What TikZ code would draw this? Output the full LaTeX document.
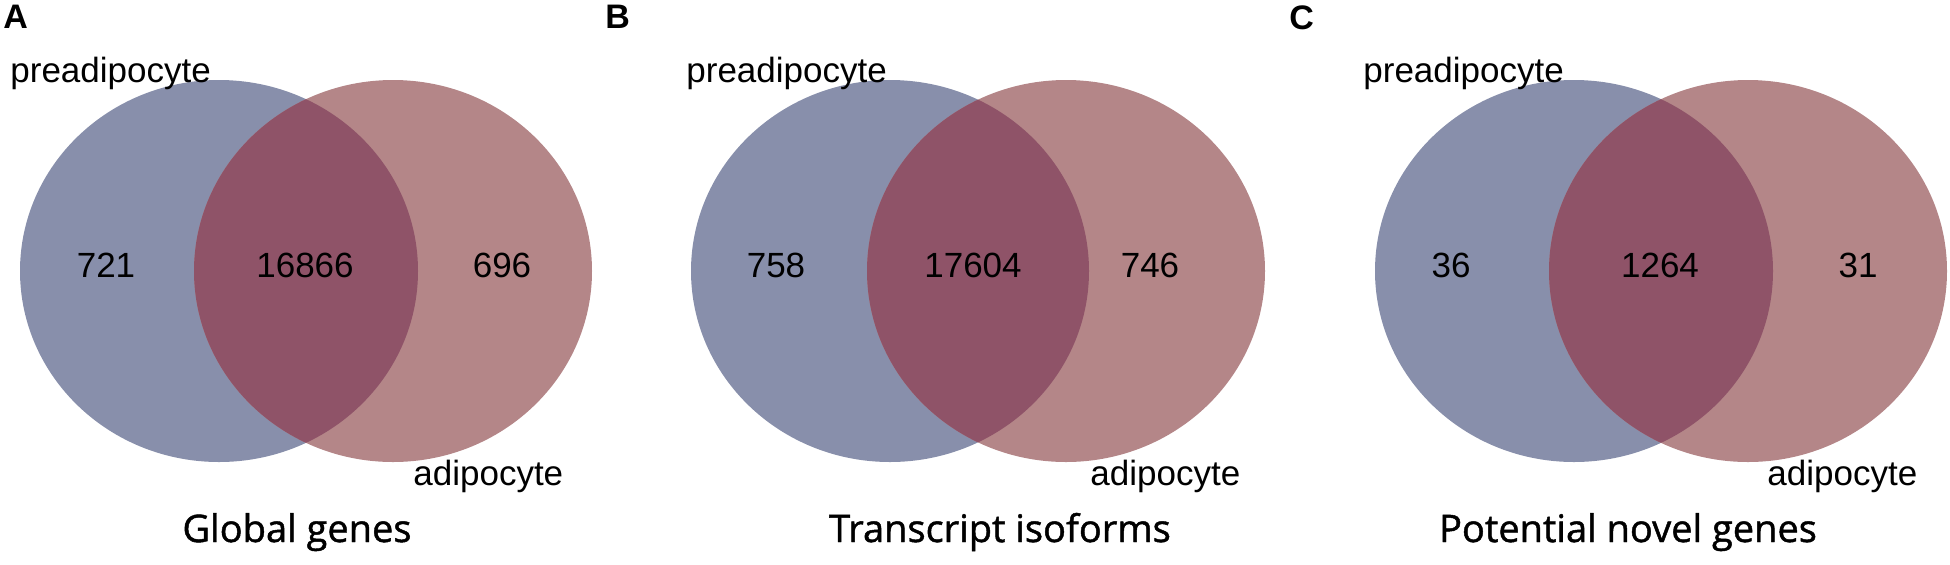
\documentclass[tikz,border=0pt]{standalone}
\usepackage{fontspec}
\setmainfont{Liberation Sans}
\newfontfamily\titlefamily[FakeBold=1.2]{Open Sans}
\usepackage{tikz}

\definecolor{preFill}{RGB}{136,143,171}
\definecolor{adiFill}{RGB}{180,134,136}
\definecolor{bothFill}{RGB}{143,83,104}

\begin{document}
\begin{tikzpicture}[x=0.5pt, y=-0.5pt,
  tag/.style={font=\fontsize{17}{20}\selectfont\bfseries, inner sep=0pt, anchor=north west},
  setname/.style={font=\fontsize{17.5}{21}\selectfont, inner sep=0pt, anchor=base west},
  count/.style={font=\fontsize{17.5}{21}\selectfont, inner sep=0pt},
  caption/.style={font=\titlefamily\fontsize{19}{22}\selectfont, inner sep=0pt, anchor=base},
  pre/.style={fill=preFill},
  adi/.style={fill=adiFill},
  both/.style={fill=bothFill}
]
\useasboundingbox (0,0) rectangle (1950,564);

% Panel A: global genes
\coordinate (preA) at (219,271);
\coordinate (adiA) at (393,271);
\fill[pre] (preA) ellipse [x radius=199, y radius=191];
\fill[adi] (adiA) ellipse [x radius=199, y radius=191];
\begin{scope}
  \clip (preA) ellipse [x radius=199, y radius=191];
  \fill[both] (adiA) ellipse [x radius=199, y radius=191];
\end{scope}
\node[tag]     (tagA)    at (3,5)      {A};
\node[setname] (preLblA) at (10,82)    {preadipocyte};
\node[setname] (adiLblA) at (413,485)  {adipocyte};
\node[count]   (onlyPreA) at (106,265) {721};
\node[count]   (sharedA)  at (305,265) {16866};
\node[count]   (onlyAdiA) at (502,265) {696};
\node[caption] (capA)    at (297,542)  {Global genes};

% Panel B: transcript isoforms
\coordinate (preB) at (890,271);
\coordinate (adiB) at (1066,271);
\fill[pre] (preB) ellipse [x radius=199, y radius=191];
\fill[adi] (adiB) ellipse [x radius=199, y radius=191];
\begin{scope}
  \clip (preB) ellipse [x radius=199, y radius=191];
  \fill[both] (adiB) ellipse [x radius=199, y radius=191];
\end{scope}
\node[tag]     (tagB)    at (605,5)    {B};
\node[setname] (preLblB) at (686,82)   {preadipocyte};
\node[setname] (adiLblB) at (1090,485) {adipocyte};
\node[count]   (onlyPreB) at (776,265) {758};
\node[count]   (sharedB)  at (973,265) {17604};
\node[count]   (onlyAdiB) at (1150,265) {746};
\node[caption] (capB)    at (1000,542) {Transcript isoforms};

% Panel C: potential novel genes
\coordinate (preC) at (1574,271);
\coordinate (adiC) at (1748,271);
\fill[pre] (preC) ellipse [x radius=199, y radius=191];
\fill[adi] (adiC) ellipse [x radius=199, y radius=191];
\begin{scope}
  \clip (preC) ellipse [x radius=199, y radius=191];
  \fill[both] (adiC) ellipse [x radius=199, y radius=191];
\end{scope}
\node[tag]     (tagC)    at (1289,5)   {C};
\node[setname] (preLblC) at (1363,82)  {preadipocyte};
\node[setname] (adiLblC) at (1767,485) {adipocyte};
\node[count]   (onlyPreC) at (1451,265) {36};
\node[count]   (sharedC)  at (1660,265) {1264};
\node[count]   (onlyAdiC) at (1858,265) {31};
\node[caption] (capC)    at (1628,542) {Potential novel genes};
\end{tikzpicture}
\end{document}
